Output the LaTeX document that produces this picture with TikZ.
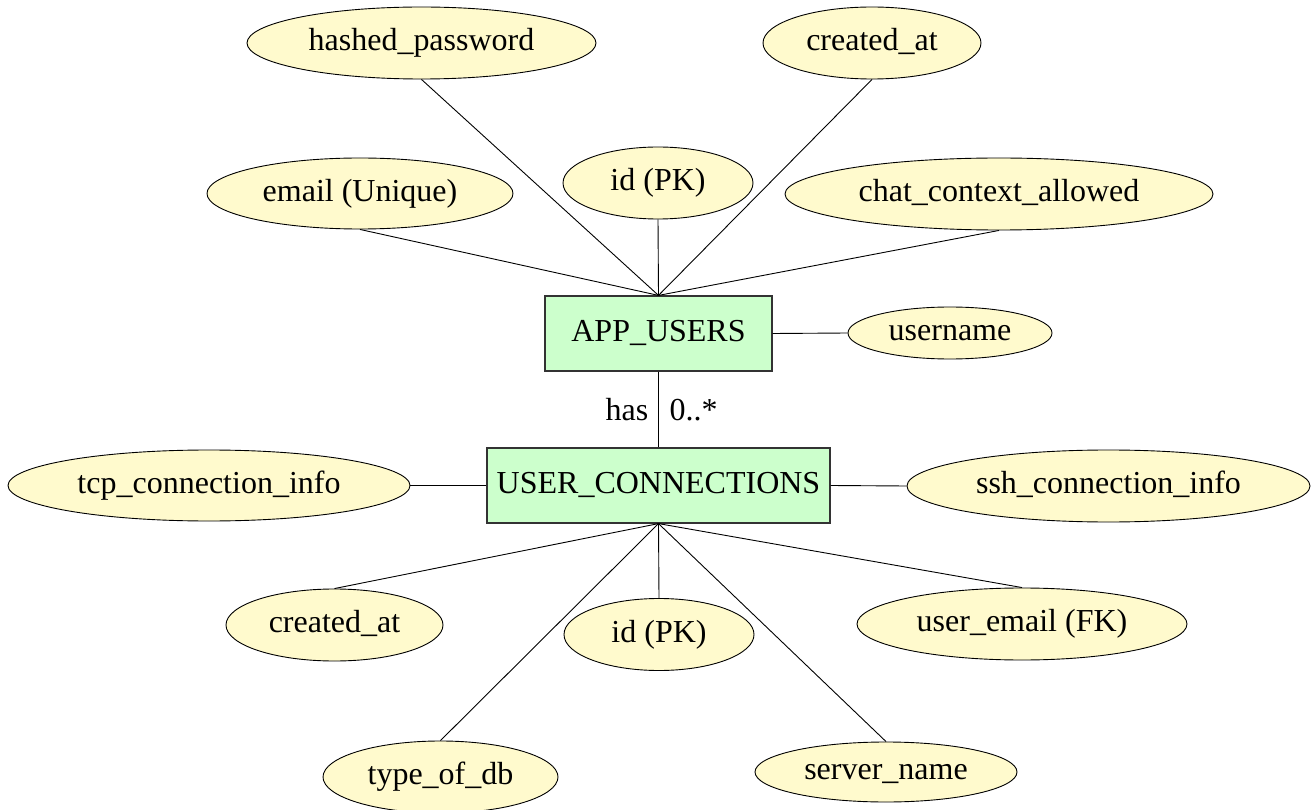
\documentclass[tikz,border=0pt]{standalone}
\usepackage{fontspec}
\setmainfont{Liberation Serif}
\usetikzlibrary{shapes.geometric}
\definecolor{attrfill}{HTML}{FFFACD}
\definecolor{entfill}{HTML}{CCFFCC}
\definecolor{entdraw}{HTML}{333333}
\begin{document}
\begin{tikzpicture}[x=1pt,y=-1pt,
  every node/.style={font=\fontsize{32}{38}\selectfont, text height=22.5pt, text depth=7pt, inner sep=0pt},
  attr/.style={ellipse, draw=black, line width=0.9pt, fill=attrfill},
  ent/.style={rectangle, draw=entdraw, line width=1.2pt, fill=entfill},
  link/.style={draw=black, line width=0.9pt}]
\useasboundingbox (0,0) rectangle (1315,810);
% entities
\node[ent, minimum width=227pt, minimum height=75pt] (au) at (658.5,333.5) {APP\_USERS};
\node[ent, minimum width=343pt, minimum height=75pt] (uc) at (658.5,485.5) {USER\_CONNECTIONS};
% APP_USERS attributes
\node[attr, minimum width=349pt, minimum height=72pt] (hp) at (421.5,43) {hashed\_password};
\node[attr, minimum width=218pt, minimum height=72pt] (ca1) at (872,43) {created\_at};
\node[attr, minimum width=306pt, minimum height=71pt] (em) at (360,193.5) {email (Unique)};
\node[attr, minimum width=190pt, minimum height=72pt] (id1) at (658,183) {id (PK)};
\node[attr, minimum width=428pt, minimum height=72pt] (cca) at (999,194) {chat\_context\_allowed};
\node[attr, minimum width=204pt, minimum height=52pt] (un) at (950,333) {username};
% USER_CONNECTIONS attributes
\node[attr, minimum width=402pt, minimum height=71pt] (tcp) at (209,485.5) {tcp\_connection\_info};
\node[attr, minimum width=403pt, minimum height=72pt] (ssh) at (1108.5,486) {ssh\_connection\_info};
\node[attr, minimum width=217pt, minimum height=72pt] (ca2) at (334.5,625) {created\_at};
\node[attr, minimum width=190pt, minimum height=72pt] (id2) at (659,634.5) {id (PK)};
\node[attr, minimum width=330pt, minimum height=72pt] (ue) at (1022,624) {user\_email (FK)};
\node[attr, minimum width=235pt, minimum height=72pt] (tdb) at (440.5,777) {type\_of\_db};
\node[attr, minimum width=262pt, minimum height=60pt] (sn) at (886,772) {server\_name};
% connectors
\draw[link] (au.north) -- (hp.south);
\draw[link] (au.north) -- (ca1.south);
\draw[link] (au.north) -- (em.south);
\draw[link] (au.north) -- (id1.south);
\draw[link] (au.north) -- (cca.south);
\draw[link] (au.east) -- (un.west);
\draw[link] (au.south) -- (uc.north);
\draw[link] (uc.west) -- (tcp.east);
\draw[link] (uc.east) -- (ssh.west);
\draw[link] (uc.south) -- (ca2.north);
\draw[link] (uc.south) -- (id2.north);
\draw[link] (uc.south) -- (ue.north);
\draw[link] (uc.south) -- (tdb.north);
\draw[link] (uc.south) -- (sn.north);
% relationship labels
\coordinate (lblpt) at (658.5,420);
\node[anchor=base east] (has) at ([xshift=-10pt]lblpt) {has};
\node[anchor=base west] (card) at ([xshift=11pt]lblpt) {0..*};
\end{tikzpicture}
\end{document}
